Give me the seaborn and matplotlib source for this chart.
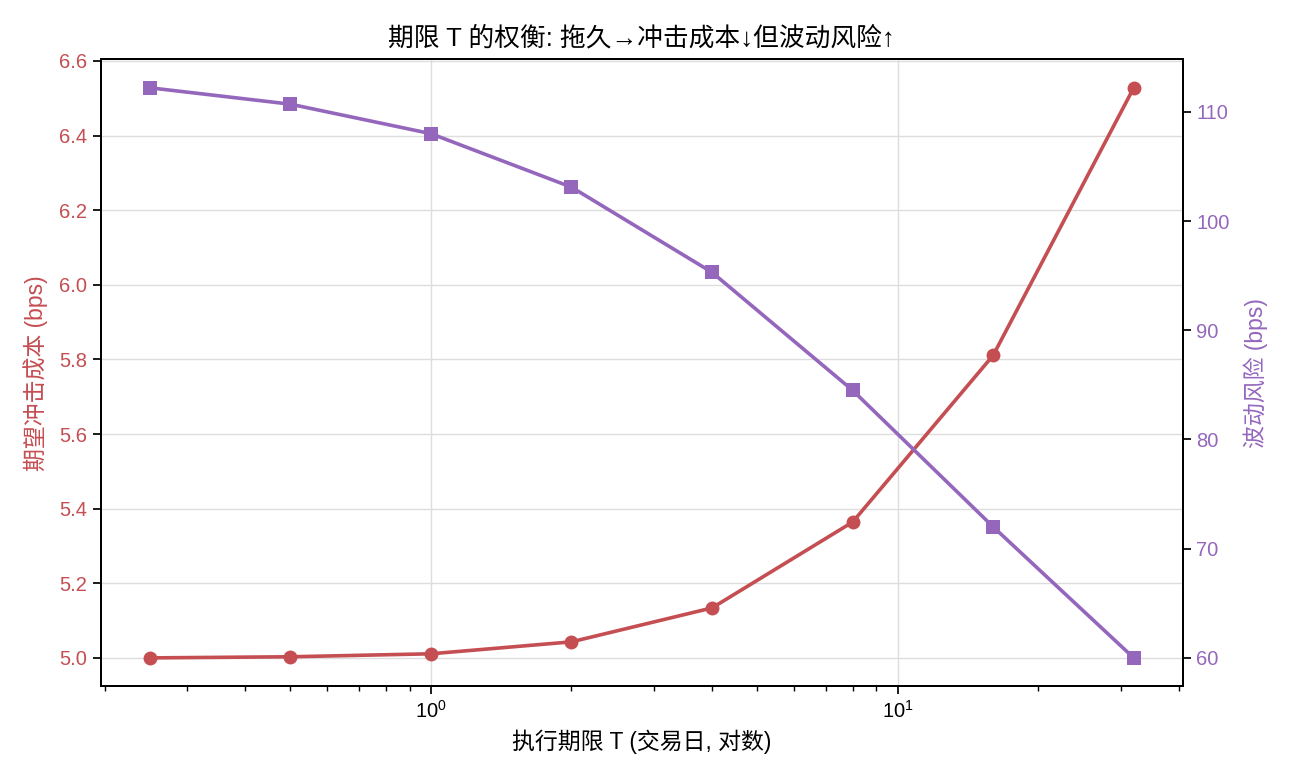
import numpy as np
import pandas as pd
import matplotlib
matplotlib.use('Agg')
import matplotlib.pyplot as plt
import seaborn as sns

# 数据: 执行期限 T 与成本/风险
horizon_T = [0.25, 0.5, 1, 2, 4, 8, 16, 32]
impact_cost = [5.000, 5.003, 5.011, 5.043, 5.134, 5.364, 5.811, 6.528]
vol_risk = [112.2, 110.7, 108.0, 103.1, 95.3, 84.5, 72.0, 60.0]

c_cost = '#c44e52'
c_risk = '#9467bd'

sns.set_theme(style='ticks')
plt.rcParams['font.family'] = ['Liberation Sans', 'Noto Sans CJK SC', 'DejaVu Sans']
plt.rcParams['axes.unicode_minus'] = False
plt.rcParams['text.color'] = 'black'
plt.rcParams['axes.labelcolor'] = 'black'
plt.rcParams['xtick.color'] = 'black'
plt.rcParams['ytick.color'] = 'black'

df = pd.DataFrame({'T': horizon_T, 'cost': impact_cost, 'risk': vol_risk})

fig, ax = plt.subplots(figsize=(12.9, 7.8), dpi=100)
sns.lineplot(data=df, x='T', y='cost', ax=ax, color=c_cost, marker='o',
             markersize=10, markeredgewidth=0, linewidth=2.6)
ax.set_xscale('log')
ax.grid(True, which='major', color='#dddddd', linewidth=1)
ax.set_axisbelow(True)
ax.set_xlabel('执行期限 T (交易日, 对数)', fontsize=16.5, labelpad=6)
ax.set_ylabel('期望冲击成本 (bps)', fontsize=16.5, color=c_cost, labelpad=8)
ax.tick_params(axis='y', labelcolor=c_cost, labelsize=14.5, length=6)
ax.tick_params(axis='x', labelsize=14.5, length=6)
ax.tick_params(axis='x', which='minor', length=3.5)

ax2 = ax.twinx()
sns.lineplot(data=df, x='T', y='risk', ax=ax2, color=c_risk, marker='s',
             markersize=10, markeredgewidth=0, linewidth=2.6)
ax2.set_ylabel('波动风险 (bps)', fontsize=16.5, color=c_risk, labelpad=10)
ax2.tick_params(axis='y', labelcolor=c_risk, labelsize=14.5, length=6)

for a in (ax, ax2):
    for s in a.spines.values():
        s.set_color('black')
        s.set_linewidth(1.4)

ax.set_title('期限 T 的权衡: 拖久→冲击成本↓但波动风险↑', fontsize=18.5, pad=10)

plt.subplots_adjust(left=0.078, right=0.917, top=0.924, bottom=0.12)
plt.savefig('out.png', dpi=100)
